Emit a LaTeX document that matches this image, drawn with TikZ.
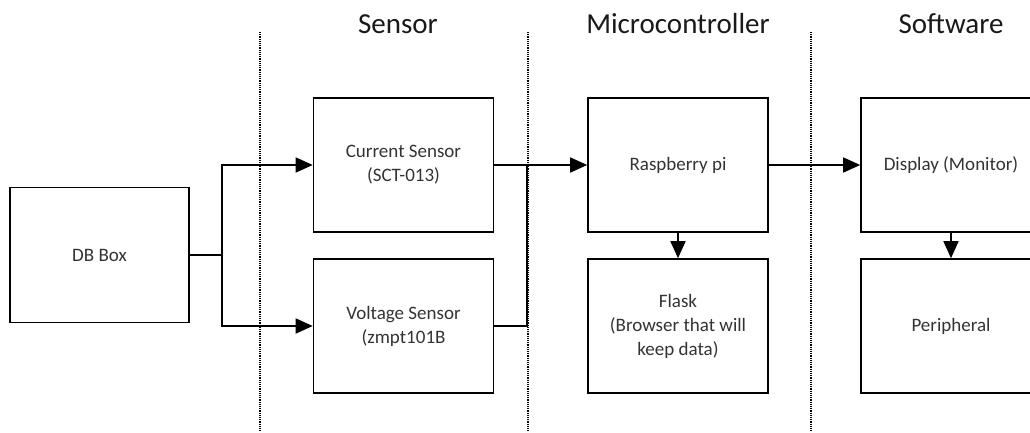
\documentclass[tikz,border=0pt]{standalone}
\usepackage{fontspec}
\setmainfont{Carlito}
\usetikzlibrary{arrows.meta}

\tikzset{
  flow/.style={-{Triangle[length=17pt,width=15pt]}},
  divider/.style={densely dotted,line width=1.2pt}
}

\begin{document}
\begin{tikzpicture}[x=1pt,y=-1pt]
            \path[use as bounding box,clip] (0,0) rectangle (1030,432);

            \begin{scope}[every node/.style={anchor=base,text=black!90,font=\fontsize{29}{34}\selectfont}]
                \node (sensorhd) at (398,33) {Sensor};
                \node (mcuhd) at (678,33) {Microcontroller};
                \node (softhd) at (951,33) {Software};
            \end{scope}

            \draw [divider] (260,32) -- (260,432);
            \draw [divider] (528,32) -- (528,432);
            \draw [divider] (811,32) -- (811,432);

            \begin{scope}[every node/.style={rectangle,draw,line width=1.6pt,minimum width=180pt,minimum height=134pt,align=center,text=black!80,font=\fontsize{19}{24}\selectfont}]
                \node (db) at (99.5,255) [minimum width=179pt,minimum height=135pt] {DB Box};
                \node (cur) at (403.5,165) {Current Sensor\\(SCT-013)};
                \node (volt) at (403.5,326) {Voltage Sensor\\(zmpt101B};
                \node (rpi) at (678,165) {Raspberry pi};
                \node (flask) at (678,326) {Flask\\(Browser that will\\keep data)};
                \node (disp) at (951,165) {Display (Monitor)};
                \node (peri) at (951,326) {Peripheral};
            \end{scope}

            \coordinate (split) at (222,255);
            \coordinate (merge) at (527,165);

            \begin{scope}[line width=1.6pt]
                \draw (db.east) -- (split);
                \draw [flow] (split) |- (cur.west);
                \draw [flow] (split) |- (volt.west);
                \draw (cur.east) -- (merge);
                \draw (volt.east) -| (merge);
            \end{scope}
            \begin{scope}[every edge/.style={draw,line width=1.6pt,flow}]
                \path
                    (merge) edge (rpi.west)
                    (rpi.east) edge (disp.west)
                    (rpi.south) edge (flask.north)
                    (disp.south) edge (peri.north);
            \end{scope}
        \end{tikzpicture}
\end{document}
